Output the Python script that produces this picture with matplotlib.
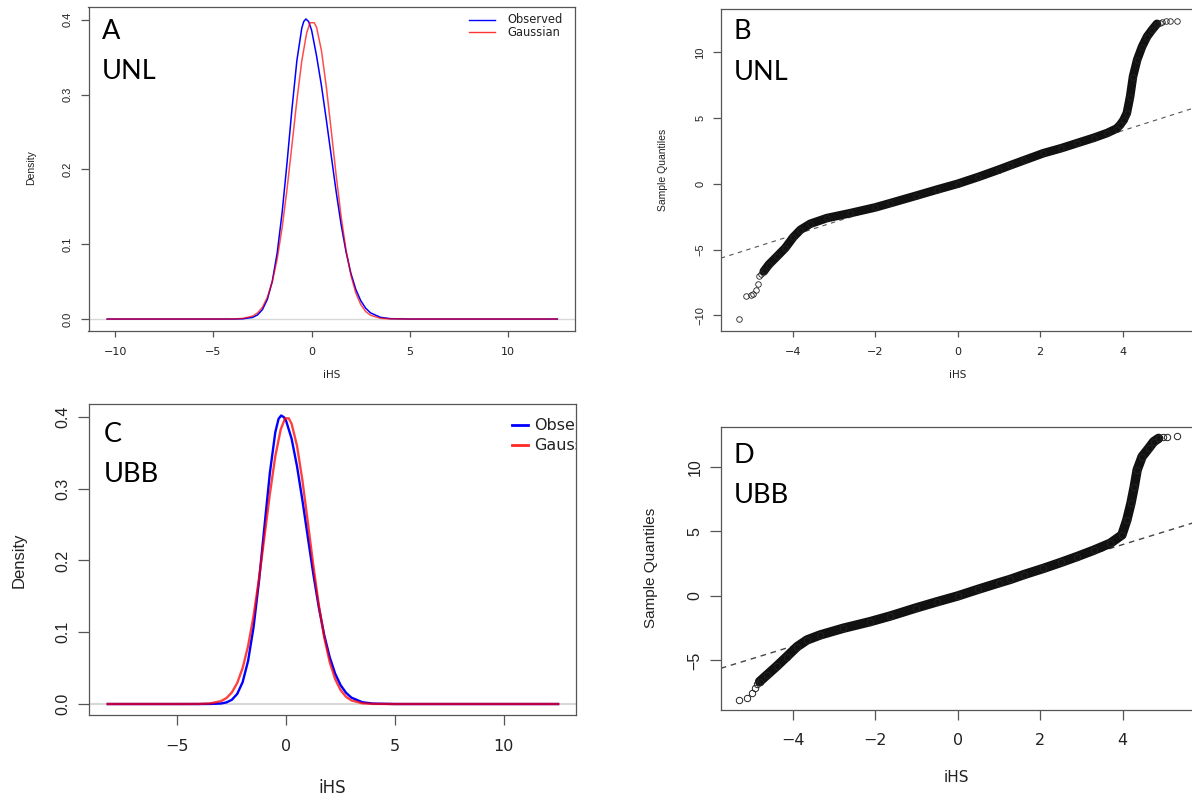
import matplotlib
matplotlib.use('Agg')
import matplotlib.pyplot as plt
from matplotlib.transforms import Affine2D

# panel A (UNL) - density of iHS
obs_A_x = [-10.4, -5.0, -4.0, -3.5, -3.0, -2.75, -2.5, -2.25, -2.0, -1.75, -1.5, -1.25, -1.0, -0.75, -0.5, -0.4,
           -0.29, -0.15, 0.0, 0.25, 0.5, 0.75, 1.0, 1.25, 1.5, 1.75, 2.0, 2.25, 2.5, 2.75, 3.0, 3.5, 4.0, 5.0, 12.5]
obs_A_y = [0.0, 0.0, 0.0, 0.0003, 0.0022, 0.0055, 0.0126, 0.0264, 0.0505, 0.0885, 0.1421, 0.2087, 0.2805, 0.3451,
           0.3887, 0.3976, 0.401, 0.3975, 0.386, 0.352, 0.312, 0.266, 0.2180, 0.1700, 0.1265, 0.0900, 0.0610,
           0.0395, 0.0245, 0.0145, 0.0082, 0.0023, 0.0005, 0.0, 0.0]
gau_A_x = [-10.4, -5.0, -4.0, -3.5, -3.0, -2.75, -2.5, -2.25, -2.0, -1.75, -1.5, -1.25, -1.0, -0.75, -0.5, -0.25,
           -0.08, 0.13, 0.25, 0.5, 0.75, 1.0, 1.25, 1.5, 1.75, 2.0, 2.25, 2.5, 2.75, 3.0, 3.5, 4.0, 5.0, 12.5]
gau_A_y = [0.0, 0.0, 0.0001, 0.0008, 0.0039, 0.0081, 0.0158, 0.0290, 0.0498, 0.0804, 0.1219, 0.1736, 0.2323, 0.2920,
           0.3448, 0.3825, 0.396, 0.396, 0.3902, 0.3589, 0.3101, 0.2516, 0.1919, 0.1374, 0.0924, 0.0584, 0.0347,
           0.0194, 0.0101, 0.0050, 0.0010, 0.0002, 0.0, 0.0]

# panel C (UBB) - density of iHS
obs_C_x = [-8.2, -5.0, -4.0, -3.5, -3.0, -2.75, -2.5, -2.25, -2.0, -1.75, -1.5, -1.25, -1.0, -0.75, -0.5, -0.35,
           -0.23, -0.1, 0.0, 0.25, 0.5, 0.75, 1.0, 1.25, 1.5, 1.75, 2.0, 2.25, 2.5, 2.75, 3.0, 3.5, 4.0, 5.0, 12.5]
obs_C_y = [0.0, 0.0, 0.0, 0.0001, 0.0007, 0.0022, 0.0058, 0.0141, 0.0306, 0.0602, 0.1068, 0.1710, 0.2470, 0.3219,
           0.3786, 0.3973, 0.402, 0.3995, 0.3943, 0.3696, 0.3309, 0.2831, 0.2314, 0.1806, 0.1347, 0.0960, 0.0654,
           0.0425, 0.0264, 0.0157, 0.0089, 0.0025, 0.0006, 0.0, 0.0]
gau_C_x = [-8.2, -5.0, -4.0, -3.5, -3.0, -2.75, -2.5, -2.25, -2.0, -1.75, -1.5, -1.25, -1.0, -0.75, -0.5, -0.25,
           -0.05, 0.12, 0.25, 0.5, 0.75, 1.0, 1.25, 1.5, 1.75, 2.0, 2.25, 2.5, 2.75, 3.0, 3.5, 4.0, 5.0, 12.5]
gau_C_y = [0.0, 0.0, 0.0001, 0.0008, 0.0040, 0.0082, 0.0160, 0.0293, 0.0502, 0.0810, 0.1226, 0.1744, 0.2330, 0.2926,
           0.3452, 0.3827, 0.398, 0.398, 0.3905, 0.3595, 0.3108, 0.2522, 0.1924, 0.1378, 0.0927, 0.0586, 0.0348,
           0.0195, 0.0101, 0.0050, 0.0010, 0.0002, 0.0, 0.0]

# panel B (UNL) - normal QQ plot: dense band, sparse tail points, reference line
qq_B_x = [-4.70, -4.58, -4.38, -4.18, -3.98, -3.81, -3.57, -3.17, -2.60, -2.00, -1.63, -1.00, -0.50, 0.00, 0.50,
          1.00, 1.27, 1.60, 2.08, 2.50, 2.89, 3.30, 3.62, 3.85, 3.94, 4.02, 4.10, 4.18, 4.25, 4.35, 4.47, 4.59,
          4.71, 4.83]
qq_B_y = [-6.67, -6.16, -5.53, -4.89, -4.05, -3.50, -3.04, -2.61, -2.23, -1.80, -1.47, -0.90, -0.44, 0.00, 0.52,
          1.08, 1.40, 1.78, 2.33, 2.70, 3.09, 3.50, 3.86, 4.20, 4.49, 4.85, 5.38, 6.64, 8.16, 9.43, 10.44, 11.20,
          11.71, 12.17]
tail_B_x = [-5.31, -5.12, -5.01, -4.95, -4.88, -4.84, -4.82, -4.77, 4.90, 4.95, 5.06, 5.15, 5.31]
tail_B_y = [-10.29, -8.57, -8.49, -8.37, -8.06, -7.63, -7.05, -6.87, 12.25, 12.30, 12.37, 12.37, 12.37]
ref_B_x = [-5.74, 5.74]
ref_B_y = [-5.66, 5.78]

# panel D (UBB) - normal QQ plot
qq_D_x = [-4.80, -4.62, -4.38, -4.14, -3.89, -3.65, -3.33, -2.77, -2.12, -1.63, -1.00, -0.50, 0.00, 0.50, 1.00,
          1.27, 1.60, 2.08, 2.50, 2.89, 3.30, 3.70, 3.98, 4.10, 4.20, 4.28, 4.35, 4.47, 4.63, 4.75, 4.87]
qq_D_y = [-6.64, -6.12, -5.43, -4.70, -3.93, -3.41, -3.02, -2.50, -1.99, -1.55, -0.92, -0.45, 0.00, 0.52, 1.02,
          1.28, 1.65, 2.14, 2.60, 3.05, 3.55, 4.09, 4.73, 5.89, 7.19, 8.47, 9.77, 10.80, 11.45, 11.96, 12.22]
tail_D_x = [-5.31, -5.11, -4.99, -4.92, -4.86, 4.98, 5.07, 5.31]
tail_D_y = [-8.06, -7.88, -7.55, -7.16, -6.82, 12.30, 12.35, 12.40]
ref_D_x = [-5.74, 5.74]
ref_D_y = [-5.61, 5.70]

dens_yticks = [0.0, 0.1, 0.2, 0.3, 0.4]
dens_ylabels = ['0.0', '0.1', '0.2', '0.3', '0.4']
qq_xticks = [-4, -2, 0, 2, 4]
qq_xlabels = ['\u22124', '\u22122', '0', '2', '4']

W, H = 1192.0, 800.0
fig = plt.figure(figsize=(11.92, 8), dpi=100)
# pixel frame of the reference picture (origin top-left)
pix = Affine2D().scale(1 / W, -1 / H).translate(0, 1) + fig.transFigure


def box(l, t, r, b):
    return [l / W, 1 - b / H, (r - l) / W, (b - t) / H]


def style(ax, xt, xl, yt, yl, fs, xlen, ylen, xpad, ypad):
    for s in ax.spines.values():
        s.set_color('#555555')
        s.set_linewidth(0.9)
    ax.set_xticks(xt, xl)
    ax.set_yticks(yt, yl)
    ax.tick_params(width=0.9, color='#555555', labelcolor='#222222', labelsize=fs)
    ax.tick_params(axis='x', length=xlen, pad=xpad)
    ax.tick_params(axis='y', length=ylen, pad=ypad)
    for t in ax.get_xticklabels():
        t.set_fontfamily('DejaVu Sans')
    for t in ax.get_yticklabels():
        t.set_fontfamily('Liberation Sans')
        t.set_rotation(90)
        t.set_va('center')


def labels(ax, xlab, ylab, fs, xpos, ypos):
    ax.set_xlabel(xlab, fontsize=fs, color='#222222', family='DejaVu Sans')
    ax.set_ylabel(ylab, fontsize=fs, color='#222222', family='Liberation Sans')
    ax.xaxis.set_label_coords(xpos[0], xpos[1], transform=pix)
    ax.yaxis.set_label_coords(ypos[0], ypos[1], transform=pix)
    ax.xaxis.label.set_va('center')
    ax.yaxis.label.set_va('center')


# ---- A
axA = fig.add_axes(box(88.5, 7, 575, 331))
axA.axhline(0, color='#d8d8d8', lw=1.0, zorder=1)
axA.plot(obs_A_x, obs_A_y, color='#0000ff', lw=1.1, zorder=2)
axA.plot(gau_A_x, gau_A_y, color='#ff0000', lw=1.1, alpha=0.7, zorder=3)
axA.set_xlim(-11.35, 13.4)
axA.set_ylim(-0.016, 0.417)
style(axA, [-10, -5, 0, 5, 10], ['\u221210', '\u22125', '0', '5', '10'], dens_yticks, dens_ylabels,
      8, 4.3, 5.5, 7, 6)
labels(axA, 'iHS', 'Density', 7.5, (331.7, 375), (31, 168))
axA.plot([468.5, 494.5], [19.5, 19.5], color='#0000ff', lw=1.0, transform=pix, clip_on=False)
axA.plot([468.5, 494.5], [32.3, 32.3], color='#ff0000', lw=1.0, alpha=0.8, transform=pix, clip_on=False)
axA.text(507.5, 19.5, 'Observed', transform=pix, fontsize=8.3, family='DejaVu Sans', color='#222222', va='center')
axA.text(507.5, 32.3, 'Gaussian', transform=pix, fontsize=8.3, family='DejaVu Sans', color='#222222', va='center')

# ---- B
axB = fig.add_axes(box(720.8, 9, 1194.5, 331))
axB.plot(ref_B_x, ref_B_y, color='#555555', lw=0.8, ls=(0, (4, 4)), zorder=1)
axB.plot(qq_B_x, qq_B_y, color='#111111', lw=6.2, solid_capstyle='round', solid_joinstyle='round', zorder=2)
axB.plot(qq_B_x + tail_B_x, qq_B_y + tail_B_y, ls='none', marker='o', ms=4.0, mfc='none', mec='#222222',
         mew=0.6, zorder=3)
axB.set_xlim(-5.74, 5.74)
axB.set_ylim(-11.2, 13.3)
style(axB, qq_xticks, qq_xlabels, [-10, -5, 0, 5, 10], ['\u221210', '\u22125', '0', '5', '10'],
      8, 4.3, 5.5, 7, 5.5)
labels(axB, 'iHS', 'Sample Quantiles', 7.5, (957.4, 375), (663.5, 170))

# ---- C
axC = fig.add_axes(box(89.3, 404, 575.5, 715))
axC.axhline(0, color='#d8d8d8', lw=1.5, zorder=1)
axC.plot(obs_C_x, obs_C_y, color='#0000ff', lw=1.7, zorder=2)
axC.plot(gau_C_x, gau_C_y, color='#ff0000', lw=1.7, alpha=0.75, zorder=3)
axC.set_xlim(-9.05, 13.3)
axC.set_ylim(-0.0153, 0.418)
style(axC, [-5, 0, 5, 10], ['\u22125', '0', '5', '10'], dens_yticks, dens_ylabels,
      11.5, 7, 8, 10.5, 5.8)
labels(axC, 'iHS', 'Density', 12, (332, 788), (19, 560))
axC.plot([511.5, 528], [425, 425], color='#0000ff', lw=2.0, transform=pix, clip_on=False)
axC.plot([511.5, 528], [445, 445], color='#ff0000', lw=2.0, alpha=0.85, transform=pix, clip_on=False)
axC.text(534.5, 425, 'Observed', transform=pix, fontsize=11.5, family='DejaVu Sans', color='#222222',
         va='center', clip_on=True)
axC.text(534.5, 445, 'Gaussian', transform=pix, fontsize=11.5, family='DejaVu Sans', color='#222222',
         va='center', clip_on=True)

# ---- D
axD = fig.add_axes(box(720.8, 427, 1194.5, 710))
axD.plot(ref_D_x, ref_D_y, color='#444444', lw=1.0, ls=(0, (4, 3.5)), zorder=1)
axD.plot(qq_D_x, qq_D_y, color='#111111', lw=6.8, solid_capstyle='round', solid_joinstyle='round', zorder=2)
axD.plot(qq_D_x + tail_D_x, qq_D_y + tail_D_y, ls='none', marker='o', ms=4.6, mfc='none', mec='#222222',
         mew=0.7, zorder=3)
axD.set_xlim(-5.74, 5.74)
axD.set_ylim(-8.84, 13.1)
style(axD, qq_xticks, qq_xlabels, [-5, 0, 5, 10], ['\u22125', '0', '5', '10'],
      11.5, 7, 8, 9.6, 5.2)
labels(axD, 'iHS', 'Sample Quantiles', 11, (956.6, 777), (651.5, 568))

# panel tags
tag_font = dict(fontfamily='Lato', fontsize=19.5, color='black', va='baseline', transform=pix)
fig.text(101.5, 39, 'A', **tag_font)
fig.text(101.5, 79, 'UNL', **tag_font)
fig.text(734, 39, 'B', **tag_font)
fig.text(734, 80, 'UNL', **tag_font)
fig.text(103.5, 442, 'C', **tag_font)
fig.text(103.5, 482, 'UBB', **tag_font)
fig.text(734, 463, 'D', **tag_font)
fig.text(734, 503, 'UBB', **tag_font)

fig.savefig('out.png', dpi=100, facecolor='white')
